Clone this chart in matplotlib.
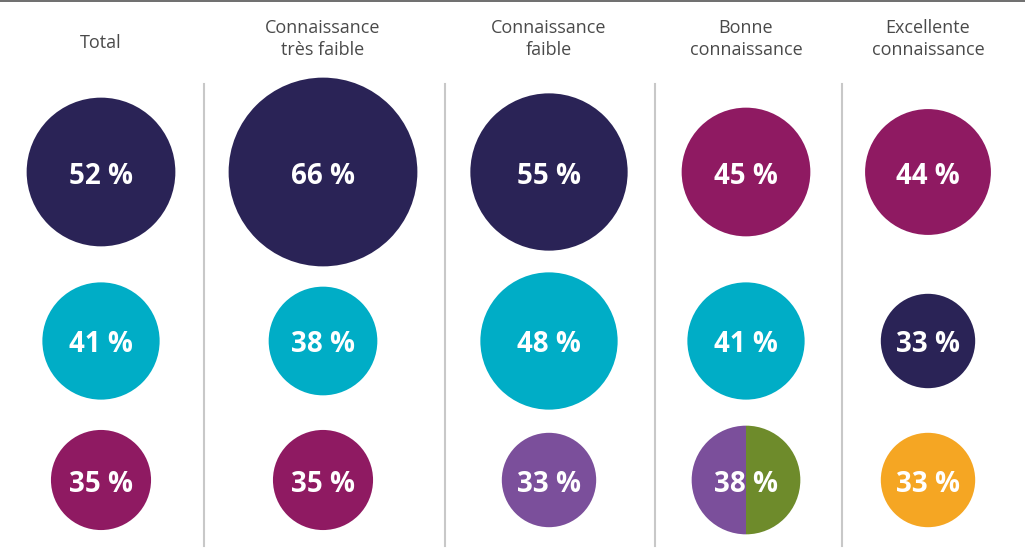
import matplotlib
matplotlib.use("Agg")
import matplotlib.pyplot as plt
from matplotlib.patches import Circle, Wedge

# data
groups = ["Total", "Connaissance\ntrès faible", "Connaissance\nfaible", "Bonne\nconnaissance", "Excellente\nconnaissance"]
row1 = [52, 66, 55, 45, 44]
row2 = [41, 38, 48, 41, 33]
row3 = [35, 35, 33, 38, 33]

NAVY = "#2a2356"
CYAN = "#00adc6"
MAG = "#8f1a62"
PURP = "#7b4f9b"
OLIVE = "#6e8b2b"
ORANGE = "#f5a623"

col1 = [NAVY, NAVY, NAVY, MAG, MAG]
col2 = [CYAN, CYAN, CYAN, CYAN, NAVY]
col3 = [MAG, MAG, PURP, (PURP, OLIVE), ORANGE]

# layout (pixels)
W, H = 1025, 553
xs = [101, 323, 549, 746, 928]
ys = [172, 341, 480]
seps = [204, 445, 655, 842]
scale = 1.43  # radius px per percent

fig = plt.figure(figsize=(W / 100, H / 100), dpi=100)
ax = fig.add_axes([0, 0, 1, 1])
ax.set_xlim(0, W)
ax.set_ylim(H, 0)
ax.set_aspect("equal")
ax.axis("off")

ax.plot([0, W], [0.5, 0.5], color="#555555", lw=1.2)
for s in seps:
    ax.plot([s, s], [84, 546], color="#c8c8c8", lw=1.5)

for i, g in enumerate(groups):
    ty = 39 if "\n" in g else 43
    ax.text(xs[i], ty, g, ha="center", va="center", fontsize=13,
            color="#4a4a4a", family="Open Sans", linespacing=1.3)

rows = [(row1, col1), (row2, col2), (row3, col3)]
for j, (vals, cols) in enumerate(rows):
    for i, v in enumerate(vals):
        r = v * scale
        c = cols[i]
        if isinstance(c, tuple):
            ax.add_patch(Wedge((xs[i], ys[j]), r, 90, 270, color=c[0], lw=0))
            ax.add_patch(Wedge((xs[i], ys[j]), r, -90, 90, color=c[1], lw=0))
        else:
            ax.add_patch(Circle((xs[i], ys[j]), r, color=c, lw=0))
        ax.text(xs[i], ys[j] + 4, f"{v} %", ha="center", va="center",
                fontsize=20, fontweight="bold", color="white", family="Open Sans")

fig.savefig("out.png", dpi=100)
